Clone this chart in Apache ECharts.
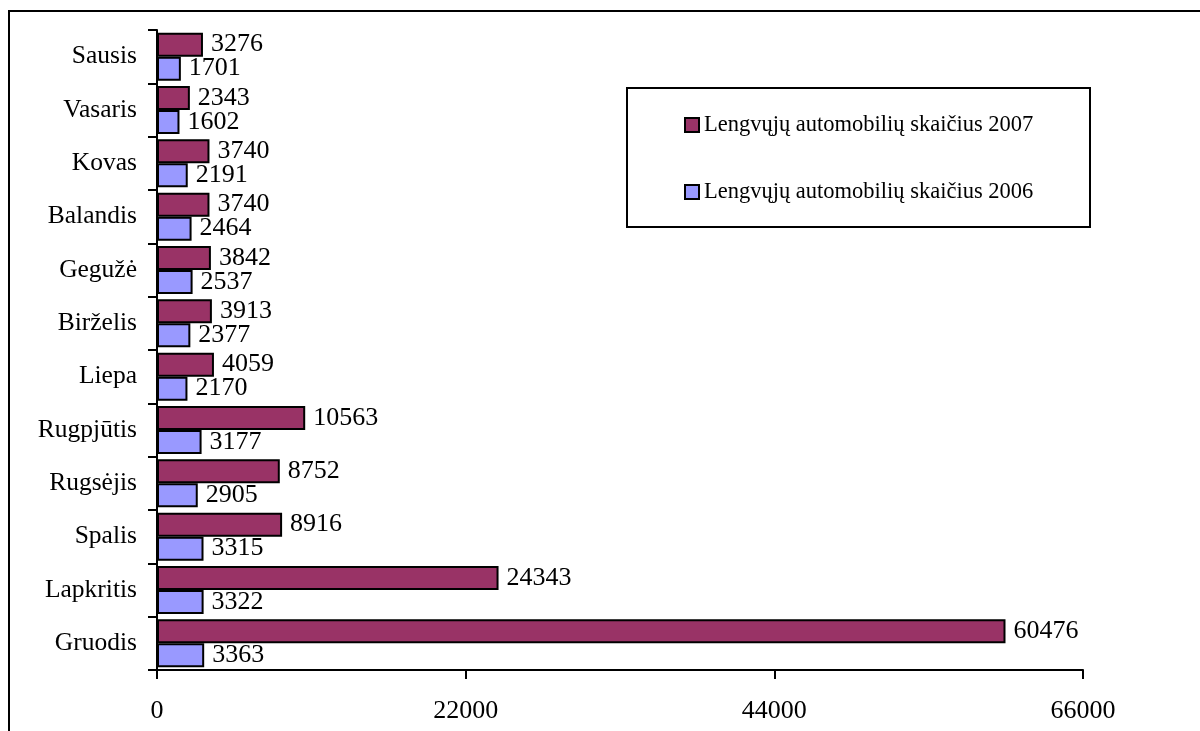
<!DOCTYPE html>
<html>
<head>
<meta charset="utf-8">
<script src="https://cdn.jsdelivr.net/npm/echarts@6/dist/echarts.min.js"></script>
<style>html,body{margin:0;padding:0;background:#fff;}#c{width:1200px;height:731px;}</style>
</head>
<body>
<div id="c"></div>
<script>
const months = ['Sausis','Vasaris','Kovas','Balandis','Gegužė','Birželis','Liepa','Rugpjūtis','Rugsėjis','Spalis','Lapkritis','Gruodis'];
const name2007 = 'Lengvųjų automobilių skaičius 2007';
const name2006 = 'Lengvųjų automobilių skaičius 2006';
const cars2007 = [3276, 2343, 3740, 3740, 3842, 3913, 4059, 10563, 8752, 8916, 24343, 60476];
const cars2006 = [1701, 1602, 2191, 2464, 2537, 2377, 2170, 3177, 2905, 3315, 3322, 3363];
const xTicks = [0, 22000, 44000, 66000];

const FONT = 'Liberation Serif';
const chart = echarts.init(document.getElementById('c'));
const labelStyle = {show: true, position: 'right', distance: 8, color: '#000', fontFamily: FONT, fontSize: 26};
chart.setOption({
  animation: false,
  backgroundColor: '#fff',
  graphic: [
    {type: 'rect', shape: {x: 9, y: 11, width: 1300, height: 800}, style: {fill: 'none', stroke: '#000', lineWidth: 2}, z: 0},
    {type: 'rect', shape: {x: 627, y: 88, width: 463, height: 139}, style: {fill: '#fff', stroke: '#000', lineWidth: 2}, z: 1}
  ],
  legend: {
    orient: 'vertical',
    left: 679,
    top: 107,
    itemWidth: 14,
    itemHeight: 14,
    itemGap: 41,
    data: [name2007, name2006],
    icon: 'rect',
    itemStyle: {borderColor: '#000', borderWidth: 2},
    textStyle: {fontFamily: FONT, fontSize: 22.5, lineHeight: 26, color: '#000'},
    z: 5
  },
  grid: {left: 157, right: 117, top: 30, bottom: 61, containLabel: false},
  xAxis: {
    type: 'value',
    min: xTicks[0],
    max: xTicks[xTicks.length - 1],
    interval: xTicks[1] - xTicks[0],
    splitLine: {show: false},
    axisLine: {show: true, lineStyle: {color: '#000', width: 2}},
    axisTick: {show: true, length: 9, lineStyle: {color: '#000', width: 2}},
    axisLabel: {color: '#000', fontFamily: FONT, fontSize: 26, margin: 28, formatter: function (v) { return String(v); }}
  },
  yAxis: {
    type: 'category',
    inverse: true,
    data: months,
    axisLine: {show: true, lineStyle: {color: '#000', width: 2}},
    axisTick: {show: true, length: 9, lineStyle: {color: '#000', width: 2}},
    axisLabel: {color: '#000', fontFamily: FONT, fontSize: 25.5, margin: 20}
  },
  series: [
    {
      name: name2007, type: 'bar', data: cars2007,
      barGap: '0%', barCategoryGap: '10%',
      itemStyle: {color: '#993366', borderColor: '#000', borderWidth: 2},
      label: labelStyle
    },
    {
      name: name2006, type: 'bar', data: cars2006,
      barGap: '0%', barCategoryGap: '10%',
      itemStyle: {color: '#9999FF', borderColor: '#000', borderWidth: 2},
      label: labelStyle
    }
  ]
});
</script>
</body>
</html>
